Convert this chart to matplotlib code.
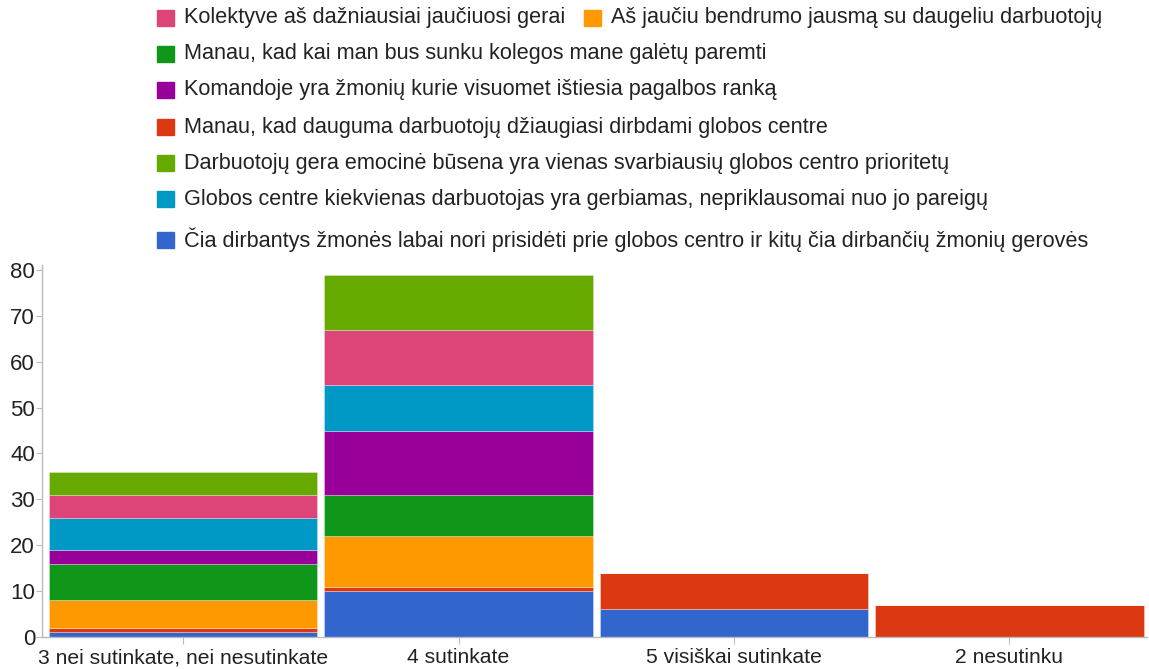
import numpy as np
import matplotlib.pyplot as plt
from matplotlib.patches import Rectangle

plt.rcParams['font.family'] = ['Liberation Sans', 'DejaVu Sans']

# categories on x axis
categories = ['3 nei sutinkate, nei nesutinkate', '4 sutinkate',
              '5 visiškai sutinkate', '2 nesutinku']

# series, bottom to top of the stack
series = [
    'Čia dirbantys žmonės labai nori prisidėti prie globos centro ir kitų čia dirbančių žmonių gerovės',
    'Manau, kad dauguma darbuotojų džiaugiasi dirbdami globos centre',
    'Aš jaučiu bendrumo jausmą su daugeliu darbuotojų',
    'Manau, kad kai man bus sunku kolegos mane galėtų paremti',
    'Komandoje yra žmonių kurie visuomet ištiesia pagalbos ranką',
    'Globos centre kiekvienas darbuotojas yra gerbiamas, nepriklausomai nuo jo pareigų',
    'Kolektyve aš dažniausiai jaučiuosi gerai',
    'Darbuotojų gera emocinė būsena yra vienas svarbiausių globos centro prioritetų',
]
colors = ['#3366cc', '#dc3912', '#ff9900', '#109618',
          '#990099', '#0099c6', '#dd4477', '#66aa00']

values = [
    [1, 10, 6, 0],    # Čia dirbantys
    [1, 1, 8, 7],     # Manau dauguma
    [6, 11, 0, 0],    # Aš jaučiu
    [8, 9, 0, 0],     # Manau kai man
    [3, 14, 0, 0],    # Komandoje
    [7, 10, 0, 0],    # Globos centre
    [5, 12, 0, 0],    # Kolektyve
    [5, 12, 0, 0],    # Darbuotojų gera
]

# legend order as shown (top to bottom)
legend_order = [6, 2, 3, 4, 1, 7, 5, 0]

fig = plt.figure(figsize=(11.49, 6.69), dpi=100)
ax = fig.add_axes([42/1149, 1 - 637/669, 1105/1149, (637-265.4)/669])

x = np.arange(len(categories))
bottom = np.zeros(len(categories))
for vals, c in zip(values, colors):
    vals = np.array(vals, dtype=float)
    ax.bar(x, vals, width=0.975, bottom=bottom, color=c,
           edgecolor=(1, 1, 1, 0.35), linewidth=0.6)
    bottom += vals

ax.set_xlim(-0.513, 3.5)
ax.set_ylim(0, 81)
ax.set_yticks(range(0, 81, 10))
ax.set_xticks(x)
ax.set_xticklabels(categories)
for s in ['top', 'right']:
    ax.spines[s].set_visible(False)
for s in ['left', 'bottom']:
    ax.spines[s].set_color('#bbbbbb')
    ax.spines[s].set_linewidth(1)
ax.tick_params(axis='y', colors='#bbbbbb', labelcolor='#222222',
               labelsize=16, length=4, pad=1)
ax.tick_params(axis='x', colors='#bbbbbb', labelcolor='#222222',
               labelsize=15.2, length=5, pad=3)

# legend drawn by hand
rows = [18, 54, 90, 127, 163, 199, 240]
positions = [(157, rows[0]), (584, rows[0])] + [(157, r) for r in rows[1:]]
for idx, (px, py) in zip(legend_order, positions):
    fig.add_artist(Rectangle((px/1149, 1 - (py + 8)/669), 17/1149, 16/669,
                             transform=fig.transFigure, color=colors[idx]))
    fig.text((px + 27)/1149, 1 - py/669, series[idx], fontsize=15.6,
             color='#222222', va='center', ha='left')

fig.savefig('out.png', dpi=100)
